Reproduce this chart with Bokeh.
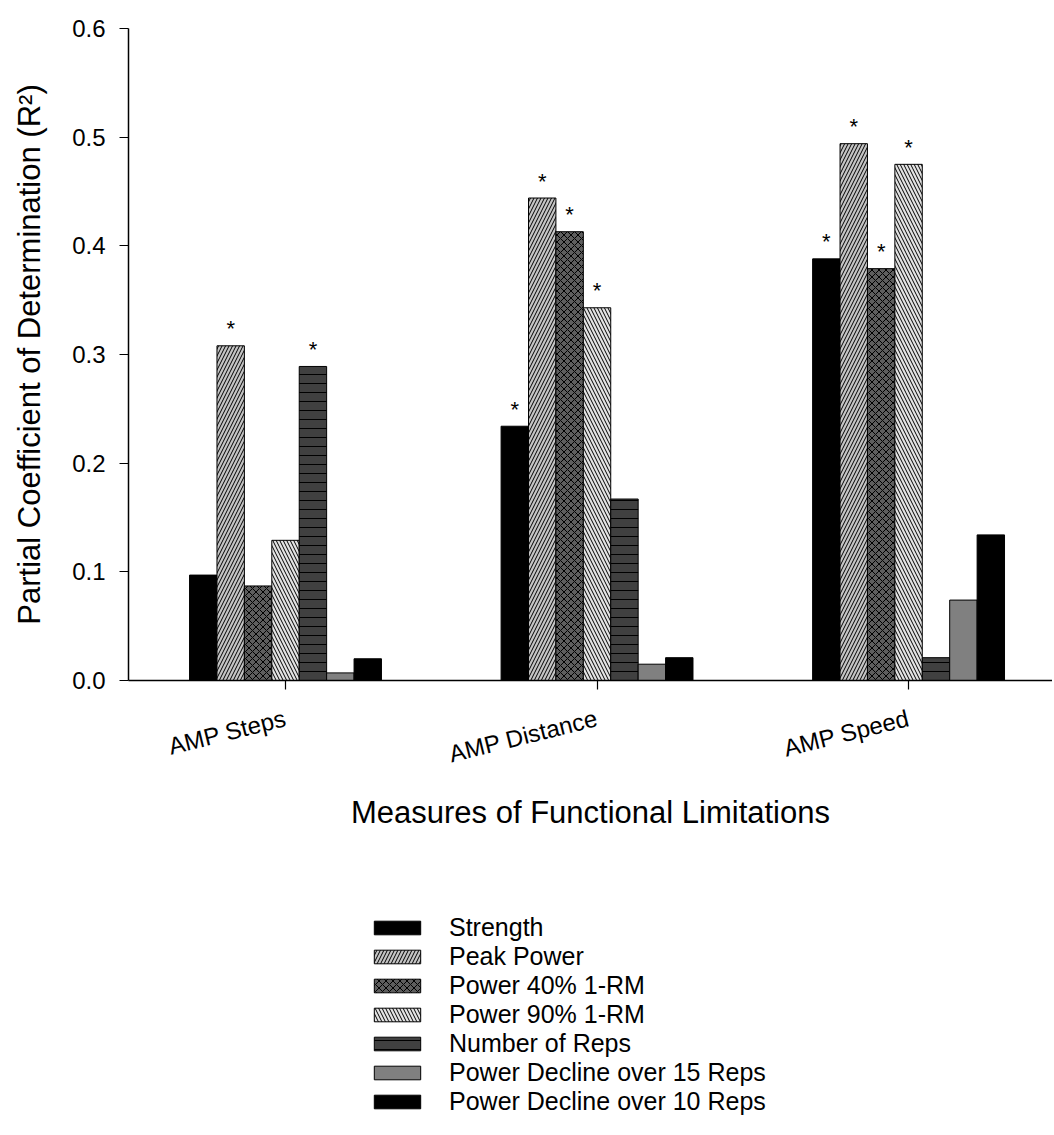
from bokeh.plotting import figure
from bokeh.layouts import column
from bokeh.models import Range1d, FixedTicker, Legend, LegendItem, ColumnDataSource
from bokeh.transform import dodge
from bokeh.core.properties import value
from bokeh.embed import file_html
from bokeh.resources import INLINE

# ---- data ----
categories = ["AMP Steps", "AMP Distance", "AMP Speed"]
series_names = ["Strength", "Peak Power", "Power 40% 1-RM", "Power 90% 1-RM",
                "Number of Reps", "Power Decline over 15 Reps", "Power Decline over 10 Reps"]
strength   = [0.097, 0.234, 0.388]
peak_power = [0.308, 0.444, 0.494]
power_40   = [0.087, 0.413, 0.379]
power_90   = [0.129, 0.343, 0.475]
num_reps   = [0.289, 0.167, 0.021]
decline_15 = [0.007, 0.015, 0.074]
decline_10 = [0.020, 0.021, 0.134]
sig_strength   = [False, True, True]
sig_peak_power = [True, True, True]
sig_power_40   = [False, True, True]
sig_power_90   = [False, True, True]
sig_num_reps   = [True, False, False]
sig_decline_15 = [False, False, False]
sig_decline_10 = [False, False, False]
y_ticks = [0.0, 0.1, 0.2, 0.3, 0.4, 0.5, 0.6]
y_tick_labels = ["0.0", "0.1", "0.2", "0.3", "0.4", "0.5", "0.6"]

values = [strength, peak_power, power_40, power_90, num_reps, decline_15, decline_10]
sigs = [sig_strength, sig_peak_power, sig_power_40, sig_power_90, sig_num_reps, sig_decline_15, sig_decline_10]

# ---- styles ----
styles = [
    dict(fill_color="#000000", hatch_pattern=None, hatch_scale=6),
    dict(fill_color="#c4c4c4", hatch_pattern="/", hatch_scale=7),
    dict(fill_color="#5e5e5e", hatch_pattern="x", hatch_scale=7),
    dict(fill_color="#e2e2e2", hatch_pattern="\\", hatch_scale=7),
    dict(fill_color="#404040", hatch_pattern="-", hatch_scale=9),
    dict(fill_color="#808080", hatch_pattern=None, hatch_scale=6),
    dict(fill_color="#000000", hatch_pattern=None, hatch_scale=6),
]

FONT = "Liberation Sans"
W = 1052
p = figure(width=W, height=880, output_backend="svg", toolbar_location=None,
           x_range=Range1d(0.496, 3.462), y_range=Range1d(0, 0.6),
           min_border_left=128, min_border_right=0, min_border_top=28, min_border_bottom=200)
p.outline_line_color = None
p.xgrid.visible = False
p.ygrid.visible = False
p.background_fill_color = None
p.border_fill_color = "white"

# legend figure (legend placed below the chart)
q = figure(width=W, height=250, output_backend="svg", toolbar_location=None,
           x_range=Range1d(0, 1), y_range=Range1d(0, 1),
           x_axis_location=None, y_axis_location=None,
           min_border_left=0, min_border_right=0, min_border_top=0, min_border_bottom=0)
q.outline_line_color = None
q.xgrid.visible = False
q.ygrid.visible = False
q.background_fill_color = None
q.border_fill_color = "white"

bar_w = 0.088
group_x = [1, 2, 3]
legend_renderers = []
for i, (vals, sg, st) in enumerate(zip(values, sigs, styles)):
    off = (i - 3) * bar_w
    src = ColumnDataSource(dict(x=group_x, top=vals, star=["*" if s else "" for s in sg]))
    kw = dict(fill_color=st["fill_color"], line_color="black", line_width=1)
    if st["hatch_pattern"]:
        kw.update(hatch_pattern=st["hatch_pattern"], hatch_scale=st["hatch_scale"],
                  hatch_color="black", hatch_weight=1)
    p.vbar(x=dodge("x", off), top="top", bottom=0, width=bar_w, source=src, **kw)
    p.text(x=dodge("x", off), y="top", text="star", source=src, text_align="center",
           text_baseline="alphabetic", y_offset=-17, text_font=value(FONT),
           text_font_size="22px", text_color="black")
    lr = q.vbar(x=dodge("x", off), top="top", bottom=0, width=bar_w, source=src, **kw)
    lr.visible = False
    legend_renderers.append(lr)

# axes
p.xaxis.ticker = FixedTicker(ticks=group_x)
p.xaxis.major_label_overrides = {g: c for g, c in zip(group_x, categories)}
p.xaxis.major_label_orientation = 0.244
p.yaxis.ticker = FixedTicker(ticks=y_ticks)
p.yaxis.major_label_overrides = {t: l for t, l in zip(y_ticks, y_tick_labels)}
for ax in (p.xaxis, p.yaxis):
    ax.axis_line_width = 1.5
    ax.axis_line_color = "black"
    ax.major_tick_out = 9
    ax.major_tick_in = 0
    ax.major_tick_line_width = 1.2
    ax.minor_tick_out = 0
    ax.minor_tick_in = 0
    ax.major_label_text_font = FONT
    ax.major_label_text_font_size = "24px"
    ax.major_label_text_color = "black"
    ax.axis_label_text_font = FONT
    ax.axis_label_text_font_size = "31px"
    ax.axis_label_text_font_style = "normal"
    ax.axis_label_text_color = "black"
p.yaxis.major_label_standoff = 14
p.xaxis.major_label_standoff = 28
p.yaxis.axis_label = "Partial Coefficient of Determination (R\u00b2)"
p.xaxis.axis_label = "Measures of Functional Limitations"
p.yaxis.axis_label_standoff = 22
p.xaxis.axis_label_standoff = 12

legend = Legend(items=[LegendItem(label=n, renderers=[r]) for n, r in zip(series_names, legend_renderers)],
                location=(240, 14), glyph_width=58, glyph_height=17, label_height=20,
                spacing=0, label_standoff=23, padding=0, margin=0, click_policy="none",
                border_line_color=None, background_fill_alpha=0,
                label_text_font=FONT, label_text_font_size="25px", label_text_color="black")
q.add_layout(legend)

open("out.html", "w").write(file_html(column(p, q, spacing=0), INLINE))
